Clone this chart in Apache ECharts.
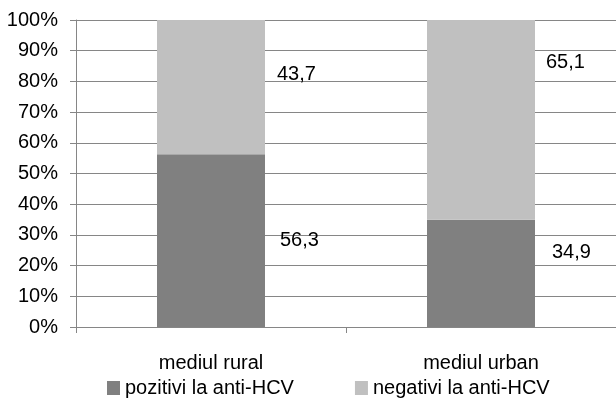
<!DOCTYPE html>
<html>
<head>
<meta charset="utf-8">
<script src="https://cdn.jsdelivr.net/npm/echarts@6/dist/echarts.min.js"></script>
<style>
  html, body { margin: 0; padding: 0; background: #fff; }
  #chart { width: 616px; height: 401px; }
</style>
</head>
<body>
<div id="chart"></div>
<script>
// Categories and stacked shares (percent)
const categories = ['mediul rural', 'mediul urban'];
const seriesNames = ['pozitivi la anti-HCV', 'negativi la anti-HCV'];
const positiveValues = [56.3, 34.9];
const negativeValues = [43.7, 65.1];
const yTicks = [0, 10, 20, 30, 40, 50, 60, 70, 80, 90, 100];

// Label offsets for each bar segment (pixels, relative to the segment's right edge)
const posOffsets = [[10, 0], [12, -21]];
const negOffsets = [[7, -13], [6, -57]];

const fontFamily = '"Liberation Sans", Arial, sans-serif';
const fontSize = 20;

function fmt(v) { return v.toFixed(1).replace('.', ','); }

function buildData(values, offsets) {
  return values.map((v, i) => ({
    value: v,
    label: { offset: offsets[i] }
  }));
}

const chart = echarts.init(document.getElementById('chart'), null, { renderer: 'canvas' });
chart.setOption({
  animation: false,
  textStyle: { fontFamily: fontFamily },
  grid: { left: 76, right: -6, top: 20, bottom: 74 },
  legend: {
    top: 374,
    left: 102,
    padding: [4, 5, 4, 5],
    itemWidth: 13,
    itemHeight: 14,
    itemGap: 61,
    icon: 'rect',
    textStyle: { fontSize: fontSize, color: '#000', fontFamily: fontFamily },
    data: seriesNames
  },
  xAxis: {
    type: 'category',
    data: categories,
    axisLine: { lineStyle: { color: '#868686', width: 1 } },
    axisTick: { show: true, length: 6, lineStyle: { color: '#868686' } },
    axisLabel: { fontSize: fontSize, color: '#000', margin: 26, fontFamily: fontFamily }
  },
  yAxis: {
    type: 'value',
    min: yTicks[0],
    max: yTicks[yTicks.length - 1],
    interval: 10,
    axisLine: { show: true, lineStyle: { color: '#868686', width: 1 } },
    axisTick: { show: true, length: 6, lineStyle: { color: '#868686' } },
    splitLine: { lineStyle: { color: '#868686', width: 1 } },
    axisLabel: { fontSize: fontSize, color: '#000', margin: 18, formatter: '{value}%', fontFamily: fontFamily }
  },
  series: [
    {
      name: seriesNames[0],
      type: 'bar',
      stack: 'total',
      barWidth: '40%',
      itemStyle: { color: '#808080' },
      label: {
        show: true,
        position: 'right',
        color: '#000',
        fontSize: fontSize,
        fontFamily: fontFamily,
        formatter: p => fmt(p.value)
      },
      data: buildData(positiveValues, posOffsets)
    },
    {
      name: seriesNames[1],
      type: 'bar',
      stack: 'total',
      barWidth: '40%',
      itemStyle: { color: '#c0c0c0' },
      label: {
        show: true,
        position: 'right',
        color: '#000',
        fontSize: fontSize,
        fontFamily: fontFamily,
        formatter: p => fmt(p.value)
      },
      data: buildData(negativeValues, negOffsets)
    }
  ]
});
</script>
</body>
</html>
